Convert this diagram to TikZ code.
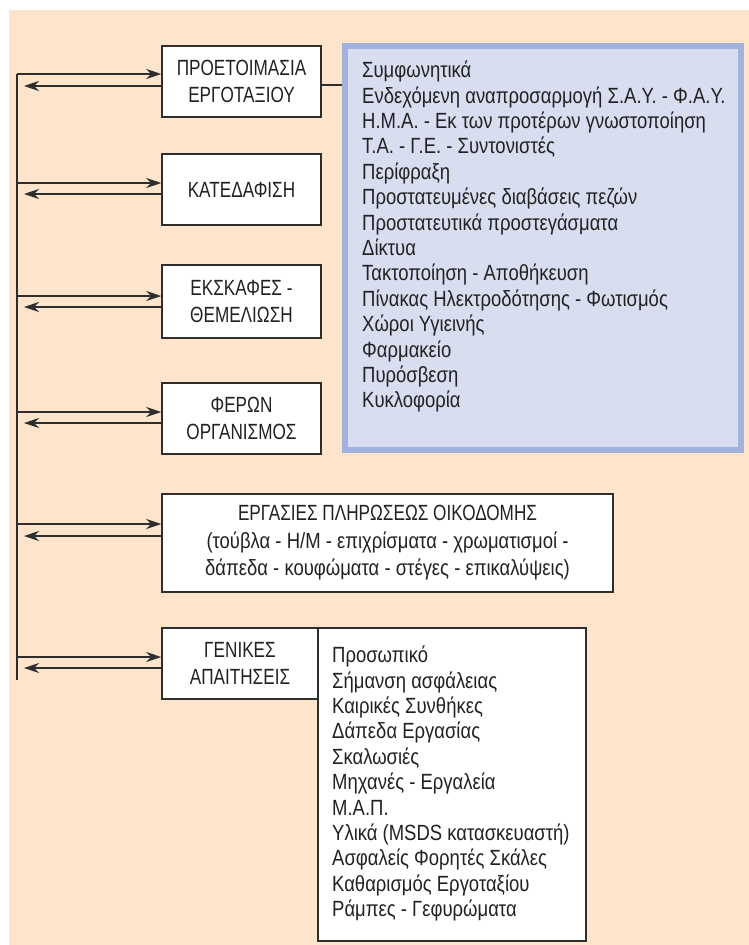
\documentclass[tikz,border=0pt]{standalone}
\usepackage{fontspec}
\setmainfont{Liberation Sans}[FakeStretch=0.84]
\newfontfamily\capsfont{Liberation Sans}[FakeStretch=0.78]
\usetikzlibrary{arrows.meta}
\definecolor{peach}{HTML}{FEE4CB}
\definecolor{bluefill}{HTML}{D8DDF0}
\definecolor{blueedge}{HTML}{A3B2DC}
\definecolor{ink}{HTML}{2E2E2E}
\definecolor{txt}{HTML}{222222}
\tikzset{
  box/.style={draw=ink, line width=1.5pt, fill=white, inner sep=0pt, align=center,
    font=\fontsize{22}{26.5}\selectfont\capsfont, text=txt},
  listtext/.style={anchor=north west, inner sep=0pt, align=left,
    font=\fontsize{22}{25.4}\selectfont, text=txt},
  arr/.style={draw=ink, line width=1.5pt, -{Stealth[length=15pt,width=10pt]}},
  link/.style={draw=ink, line width=1.5pt}
}
\begin{document}
\begin{tikzpicture}[x=1pt,y=-1pt]
\useasboundingbox (0,0) rectangle (749,945);
\fill[white] (0,0) rectangle (749,945);
\fill[peach] (9,10) rectangle (749,945);

\node[draw=blueedge, line width=6pt, fill=bluefill, minimum width=396pt, minimum height=404pt, inner sep=0pt] (blue) at (543,248) {};
\node[listtext] (bluelist) at (362,61) {Συμφωνητικά\\
Ενδεχόμενη αναπροσαρμογή Σ.Α.Υ. - Φ.Α.Υ.\\
Η.Μ.Α. - Εκ των προτέρων γνωστοποίηση\\
Τ.Α. - Γ.Ε. - Συντονιστές\\
Περίφραξη\\
Προστατευμένες διαβάσεις πεζών\\
Προστατευτικά προστεγάσματα\\
Δίκτυα\\
Τακτοποίηση - Αποθήκευση\\
Πίνακας Ηλεκτροδότησης - Φωτισμός\\
Χώροι Υγιεινής\\
Φαρμακείο\\
Πυρόσβεση\\
Κυκλοφορία};

\node[box, minimum width=159pt, minimum height=71pt] (b1) at (241.5,81.5) {ΠΡΟΕΤΟΙΜΑΣΙΑ\\ΕΡΓΟΤΑΞΙΟΥ};
\node[box, minimum width=159pt, minimum height=71pt] (b2) at (241.5,189.5) {ΚΑΤΕΔΑΦΙΣΗ};
\node[box, minimum width=159pt, minimum height=73pt] (b3) at (241.5,301.5) {ΕΚΣΚΑΦΕΣ -\\ΘΕΜΕΛΙΩΣΗ};
\node[box, minimum width=159pt, minimum height=71pt] (b4) at (241.5,418.5) {ΦΕΡΩΝ\\ΟΡΓΑΝΙΣΜΟΣ};
\node[box, minimum width=451pt, minimum height=98pt, font=\fontsize{22}{27.5}\selectfont] (b5) at (387.5,543) {{\capsfont ΕΡΓΑΣΙΕΣ ΠΛΗΡΩΣΕΩΣ ΟΙΚΟΔΟΜΗΣ}\\(τούβλα - Η/Μ - επιχρίσματα - χρωματισμοί -\\δάπεδα - κουφώματα - στέγες - επικαλύψεις)};
\node[box, minimum width=268pt, minimum height=313pt] (b7) at (452,784.5) {};
\node[box, minimum width=156pt, minimum height=71pt] (b6) at (240,663.5) {ΓΕΝΙΚΕΣ\\ΑΠΑΙΤΗΣΕΙΣ};
\node[listtext] (list7) at (332,646) {Προσωπικό\\
Σήμανση ασφάλειας\\
Καιρικές Συνθήκες\\
Δάπεδα Εργασίας\\
Σκαλωσιές\\
Μηχανές - Εργαλεία\\
Μ.Α.Π.\\
Υλικά (MSDS κατασκευαστή)\\
Ασφαλείς Φορητές Σκάλες\\
Καθαρισμός Εργοταξίου\\
Ράμπες - Γεφυρώματα};

% trunk
\coordinate (ttop) at (17,74);
\coordinate (tbot) at (17,680);
\draw[link] (ttop) -- (tbot);

% arrows
\coordinate (o1) at (17,74);  \coordinate (i1) at (24,86);
\coordinate (o2) at (17,183); \coordinate (i2) at (24,194);
\coordinate (o3) at (17,296); \coordinate (i3) at (24,307);
\coordinate (o4) at (17,412); \coordinate (i4) at (24,423);
\coordinate (o5) at (17,524); \coordinate (i5) at (24,536);
\coordinate (o6) at (17,657); \coordinate (i6) at (24,668);
\foreach \k in {1,...,6}{
  \draw[arr] (o\k) -- (o\k -| b\k.west);
  \draw[arr] (i\k -| b\k.west) -- (i\k);
}

% link to blue box
\coordinate (l1) at (321,85);
\draw[link] (l1) -- (l1 -| blue.west);
\end{tikzpicture}
\end{document}
